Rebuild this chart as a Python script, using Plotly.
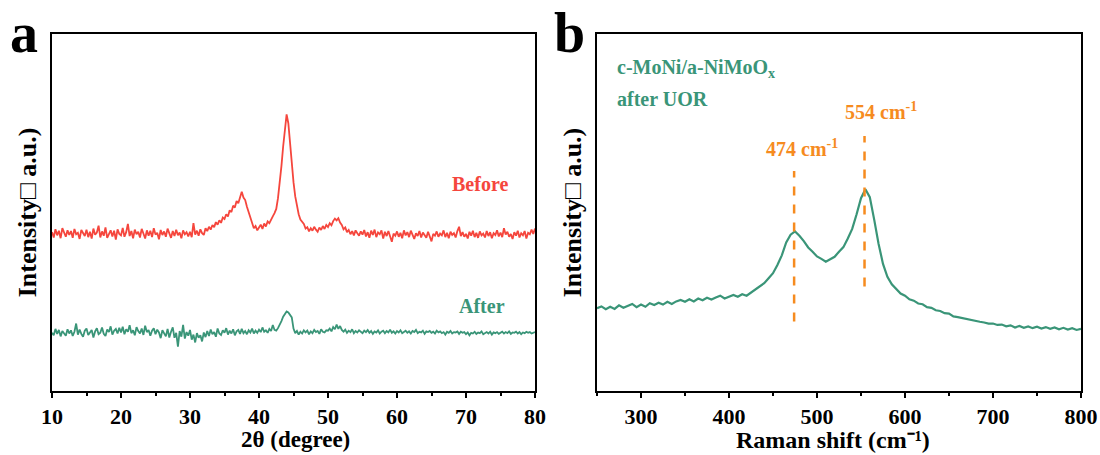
import numpy as np
import plotly.graph_objects as go

# ---------------- data ----------------
xrd_start, xrd_step = 10.0, 0.25
xrd_before = [
    44.5, 43.0, 45.3, 43.6, 44.9, 42.8, 45.6, 44.1, 43.2, 45.0, 43.7, 44.8, 42.9, 45.4, 43.9, 44.3, 42.6, 45.1, 44.0, 43.4,
    45.2, 43.1, 44.6, 42.7, 45.5, 43.8, 44.4, 46.3, 43.0, 44.7, 43.5, 45.8, 42.9, 44.2, 45.0, 43.3, 44.9, 42.4, 45.3, 44.0,
    43.6, 45.7, 43.2, 44.5, 46.8, 43.4, 44.8, 42.8, 45.2, 43.9, 44.6, 43.0, 45.4, 44.1, 42.7, 45.0, 43.5, 44.9, 43.1, 45.6,
    43.8, 44.3, 42.5, 45.1, 43.7, 44.7, 43.2, 45.5, 44.0, 42.9, 44.8, 43.4, 45.2, 43.6, 44.4, 42.8, 45.0, 43.9, 44.5, 43.3,
    44.6, 43.1, 47.0, 43.8, 44.9, 43.5, 45.3, 44.2, 43.7, 45.6, 44.8, 46.0, 45.2, 46.5, 45.9, 47.3, 46.6, 47.8, 47.1, 48.6,
    48.2, 49.5, 48.9, 50.6, 50.1, 51.9, 51.4, 53.2, 52.6, 54.5, 55.8, 54.2, 53.5, 51.6, 50.0, 48.3, 47.0, 45.6, 46.2, 45.0,
    45.8, 46.6, 45.4, 46.9, 46.1, 47.5, 47.0, 48.2, 48.9, 49.8, 51.0, 54.0, 58.0, 63.0, 68.5, 73.5, 77.5, 75.0, 69.0, 64.0,
    58.5, 54.5, 51.5, 49.5, 48.0, 47.4, 46.8, 45.5, 45.9, 44.7, 45.6, 44.9, 46.0, 45.2, 44.6, 45.8, 45.1, 46.2, 45.4, 46.5,
    45.9, 47.0, 46.4, 47.6, 48.3, 47.8, 48.4, 47.2, 46.5, 45.3, 45.8, 44.5, 45.1, 43.9, 44.8, 43.6, 45.0, 44.2, 43.5, 44.7,
    43.8, 45.1, 43.3, 44.5, 42.9, 44.9, 43.7, 45.2, 43.1, 44.4, 43.9, 45.0, 42.7, 44.6, 43.4, 44.8, 43.0, 41.8, 44.1, 43.5,
    44.7, 43.2, 44.3, 42.8, 45.0, 43.6, 44.5, 43.1, 44.9, 43.7, 42.6, 44.2, 43.4, 44.8, 43.0, 44.4, 43.8, 42.9, 44.6, 43.3,
    41.9, 44.0, 43.5, 44.7, 43.2, 44.1, 43.6, 45.0, 43.1, 44.3, 42.8, 44.6, 43.7, 44.2, 43.0, 44.8, 46.0, 43.4, 44.5, 43.2,
    44.0, 42.7, 44.6, 43.5, 44.9, 43.1, 44.3, 42.9, 44.7, 43.6, 44.1, 43.0, 44.8, 43.4, 44.5, 42.8, 44.2, 43.7, 45.0, 43.3,
    44.4, 43.1, 45.6, 43.8, 44.6, 43.2, 44.0, 42.6, 44.5, 43.5, 44.9, 43.0, 44.2, 43.6, 44.8, 42.7, 44.3, 43.9, 45.2, 44.0,
    45.5,
]
xrd_after = [
    16.3, 15.6, 17.4, 16.0, 17.1, 15.3, 16.8, 16.2, 15.5, 17.3, 16.1, 17.0, 15.4, 16.6, 18.9, 15.8, 17.2, 16.0, 15.2, 16.9,
    17.5, 15.7, 16.4, 17.1, 15.0, 16.7, 17.6, 15.9, 16.3, 17.8, 16.0, 15.4, 17.2, 16.5, 18.1, 15.8, 16.9, 17.4, 16.1, 17.7,
    16.4, 18.0, 15.9, 17.3, 16.6, 18.4, 16.2, 17.0, 15.6, 17.9, 16.8, 16.1, 17.5, 15.7, 18.3, 16.5, 17.1, 15.5, 16.9, 17.6,
    15.9, 17.2, 16.4, 14.8, 17.0, 16.2, 15.3, 17.4, 15.0, 16.6, 17.8, 14.9, 16.3, 12.4, 16.8, 15.2, 18.5, 14.7, 16.5, 15.5,
    17.1, 14.4, 15.8, 13.6, 16.2, 14.9, 15.6, 13.9, 16.4, 15.1, 16.8, 15.4, 17.2, 15.9, 16.5, 15.2, 17.5, 16.1, 15.7, 17.0,
    16.3, 17.6, 15.8, 16.9, 16.1, 17.3, 15.6, 16.7, 17.1, 16.0, 17.4, 16.2, 16.8, 15.9, 17.0, 16.4, 17.5, 16.1, 16.9, 16.3,
    17.2, 16.5, 17.8, 16.6, 17.0, 16.3, 17.4, 16.8, 18.5, 17.1, 16.9, 17.6, 18.4, 19.6, 20.8, 21.5, 22.3, 22.0, 21.2, 20.6,
    17.5, 16.2, 16.8, 15.8, 16.6, 16.1, 17.0, 16.4, 16.9, 15.9, 16.7, 16.2, 17.1, 16.5, 16.8, 16.0, 17.3, 16.6, 16.4, 17.0,
    16.9, 17.5, 16.7, 17.9, 17.3, 18.6, 17.4, 18.2, 17.1, 16.6, 17.2, 16.3, 16.9, 16.5, 17.3, 16.2, 16.8, 16.4, 17.0, 16.6,
    16.2, 16.9, 16.5, 17.1, 16.3, 16.8, 16.0, 16.7, 16.4, 17.0, 16.1, 16.6, 16.9, 16.2, 16.8, 16.4, 17.2, 16.3, 16.7, 16.1,
    16.8, 16.4, 17.0, 16.2, 16.6, 16.9, 16.3, 16.7, 16.1, 16.8, 16.5, 17.1, 16.2, 16.6, 16.4, 16.9, 16.0, 16.7, 16.5, 16.8,
    16.3, 16.6, 16.1, 16.9, 16.4, 16.7, 16.2, 16.5, 15.8, 16.6, 16.3, 16.8, 16.1, 16.5, 16.4, 16.7, 16.0, 16.6, 16.3, 16.5,
    15.9, 16.4, 15.6, 16.3, 16.1, 16.6, 16.0, 16.4, 16.2, 16.7, 15.9, 16.3, 16.5, 16.1, 16.6, 15.8, 16.4, 16.2, 16.5, 16.0,
    16.3, 16.6, 16.1, 16.5, 16.2, 16.7, 16.0, 16.4, 16.3, 16.6, 16.1, 16.5, 15.9, 16.4, 16.2, 16.6, 16.3, 16.5, 16.1, 16.4,
    16.5,
]

raman_start, raman_step = 250, 5
raman = [
    23.2, 23.7, 22.9, 23.6, 23.0, 24.0, 23.3, 23.9, 24.4, 23.5,
    24.2, 23.6, 24.6, 24.1, 24.7, 24.2, 25.0, 24.4, 25.1, 25.5,
    25.0, 25.7, 25.1, 25.9, 25.4, 26.1, 25.6, 26.2, 26.7, 25.9,
    26.5, 26.9, 26.4, 27.1, 26.7, 27.6, 28.5, 29.3, 30.2, 31.6,
    33.0, 35.3, 38.0, 41.6, 43.8, 44.7, 43.5, 42.0, 40.2, 39.0,
    37.7, 37.0, 36.2, 36.9, 37.6, 39.0, 40.3, 42.7, 45.4, 49.5,
    54.0, 56.5, 54.3, 48.0, 41.2, 35.6, 32.0, 29.9, 28.7, 27.3,
    26.7, 25.7, 25.3, 24.5, 24.3, 23.5, 23.3, 22.6, 22.4, 21.8,
    21.7, 20.9, 20.7, 20.4, 20.2, 19.8, 19.7, 19.4, 19.2, 18.9,
    18.9, 18.5, 18.6, 18.1, 18.4, 17.8, 18.2, 17.7, 18.1, 17.6,
    18.0, 17.5, 17.9, 17.4, 17.8, 17.3, 17.7, 17.2, 17.6, 17.1,
    17.4,
]

peak_pos = [474, 554]
peak_line_y = [[19.5, 61.6], [29.3, 71.4]]
peak_labels = ["474 cm<sup>-1</sup>", "554 cm<sup>-1</sup>"]
peak_label_xy = [(483, 68.2), (573, 78.5)]

x_xrd = xrd_start + xrd_step * np.arange(len(xrd_before))
x_raman = raman_start + raman_step * np.arange(len(raman))

RED = "#F5463D"
GREEN = "#3A9578"
ORANGE = "#F68B1F"
FONT = "Liberation Serif"

fig = go.Figure()
fig.add_trace(go.Scatter(x=x_xrd, y=xrd_before, mode="lines",
                         line=dict(color=RED, width=1.8), xaxis="x", yaxis="y"))
fig.add_trace(go.Scatter(x=x_xrd, y=xrd_after, mode="lines",
                         line=dict(color=GREEN, width=1.8), xaxis="x", yaxis="y"))
fig.add_trace(go.Scatter(x=x_raman, y=raman, mode="lines",
                         line=dict(color=GREEN, width=2.2), xaxis="x2", yaxis="y2"))
for p, (y0, y1) in zip(peak_pos, peak_line_y):
    fig.add_trace(go.Scatter(x=[p, p], y=[y0, y1], mode="lines",
                             line=dict(color=ORANGE, width=2.5, dash="dash"),
                             xaxis="x2", yaxis="y2"))

tickfont = dict(family=FONT, size=22, color="black", weight="bold")
titlefont_a = dict(family=FONT, size=23, color="black", weight="bold")
titlefont_b = dict(family=FONT, size=24, color="black", weight="bold")
ytitlefont = dict(family=FONT, size=26, color="black", weight="bold")
axis_common = dict(showline=True, linecolor="black", linewidth=2, mirror=True,
                   showgrid=False, zeroline=False, automargin=False)

fig.update_layout(
    width=1100, height=455,
    margin=dict(l=0, r=0, t=34, b=64),
    paper_bgcolor="white", plot_bgcolor="white",
    showlegend=False,
    xaxis=dict(domain=[52 / 1100, 535 / 1100], range=[10, 80], dtick=10,
               ticks="outside", ticklen=5, tickwidth=2, tickcolor="black",
               minor=dict(dtick=5, ticks="outside", ticklen=3, tickwidth=2, tickcolor="black"),
               tickfont=tickfont, anchor="y", **axis_common),
    yaxis=dict(domain=[0, 1], range=[0, 100], showticklabels=False, ticks="",
               title=dict(text="Intensity□ a.u.)", font=ytitlefont, standoff=6),
               anchor="x", **axis_common),
    xaxis2=dict(domain=[597 / 1100, 1081 / 1100], range=[250, 800], dtick=100,
                ticks="outside", ticklen=5, tickwidth=2, tickcolor="black",
                minor=dict(dtick=50, ticks="outside", ticklen=3, tickwidth=2, tickcolor="black"),
                tickfont=tickfont, anchor="y2", **axis_common),
    yaxis2=dict(domain=[0, 1], range=[0, 100], showticklabels=False, ticks="",
                title=dict(text="Intensity□ a.u.)", font=ytitlefont, standoff=6),
                anchor="x2", **axis_common),
)

# x-axis titles
fig.add_annotation(x=295 / 1100, y=(391 - 439) / 357, xref="paper", yref="paper",
                   text="2θ (degree)", showarrow=False, xanchor="center", yanchor="middle",
                   font=titlefont_a)
fig.add_annotation(x=833 / 1100, y=(391 - 440) / 357, xref="paper", yref="paper",
                   text="Raman shift (cm⁻¹)", showarrow=False, xanchor="center",
                   yanchor="middle", font=titlefont_b)

ann_font = lambda c: dict(family=FONT, size=20, color=c, weight="bold")
fig.add_annotation(x=72, y=58.1, xref="x", yref="y", text="Before",
                   showarrow=False, font=ann_font(RED))
fig.add_annotation(x=72.3, y=23.8, xref="x", yref="y", text="After",
                   showarrow=False, font=ann_font(GREEN))
fig.add_annotation(x=270, y=90.2, xref="x2", yref="y2", text="c-MoNi/a-NiMoO<sub>x</sub>",
                   showarrow=False, xanchor="left", font=ann_font(GREEN))
fig.add_annotation(x=270, y=81.9, xref="x2", yref="y2", text="after UOR",
                   showarrow=False, xanchor="left", font=ann_font(GREEN))
for txt, (lx, ly) in zip(peak_labels, peak_label_xy):
    fig.add_annotation(x=lx, y=ly, xref="x2", yref="y2", text=txt,
                       showarrow=False, font=ann_font(ORANGE))

letter_font = dict(family=FONT, size=56, color="black", weight="bold")
fig.add_annotation(x=8 / 1100, y=(391 - 33) / 357, xref="paper", yref="paper", text="a",
                   showarrow=False, xanchor="left", yanchor="middle", font=letter_font)
fig.add_annotation(x=552 / 1100, y=(391 - 33) / 357, xref="paper", yref="paper", text="b",
                   showarrow=False, xanchor="left", yanchor="middle", font=letter_font)

fig.write_html("out.html")
